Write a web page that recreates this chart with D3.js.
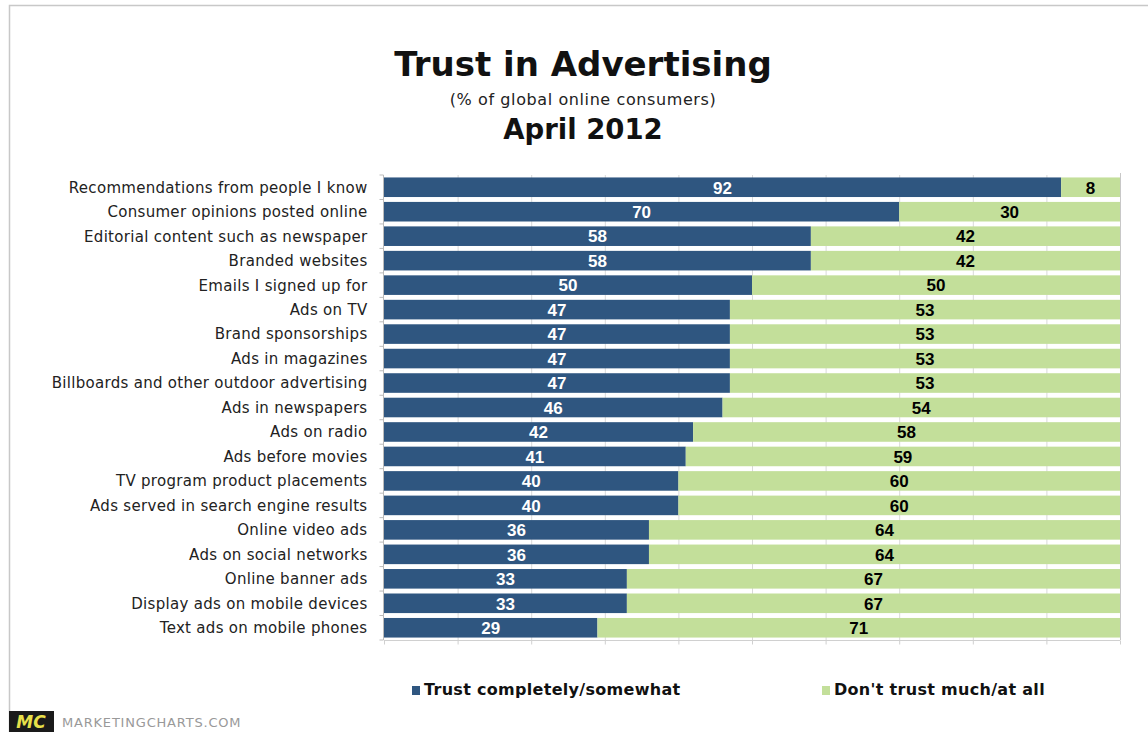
<!DOCTYPE html>
<html><head><meta charset="utf-8">
<script src="https://cdn.jsdelivr.net/npm/d3@7"></script>
<style>
html,body{margin:0;padding:0;background:#fff;}
svg{display:block;font-family:"DejaVu Sans",Verdana,sans-serif;}
</style></head>
<body><svg id="c" width="1148" height="732"></svg>
<script>
const categories = [
  "Recommendations from people I know",
  "Consumer opinions posted online",
  "Editorial content such as newspaper",
  "Branded websites",
  "Emails I signed up for",
  "Ads on TV",
  "Brand sponsorships",
  "Ads in magazines",
  "Billboards and other outdoor advertising",
  "Ads in newspapers",
  "Ads on radio",
  "Ads before movies",
  "TV program product placements",
  "Ads served in search engine results",
  "Online video ads",
  "Ads on social networks",
  "Online banner ads",
  "Display ads on mobile devices",
  "Text ads on mobile phones"
];
const trustValues = [92,70,58,58,50,47,47,47,47,46,42,41,40,40,36,36,33,33,29];
const distrustValues = [8,30,42,42,50,53,53,53,53,54,58,59,60,60,64,64,67,67,71];
const seriesNames = ["Trust completely/somewhat","Don't trust much/at all"];
const xTicks = [0,10,20,30,40,50,60,70,80,90,100];

const colors = ["#2f5680","#c3df9a"];
const svg = d3.select("#c");
const W = 1148, H = 732;
const L = 384, R = 1120, T = 175, B = 640;

// frame
svg.append("path").attr("d",`M9.5,${H} V5.5 H${W}`).attr("fill","none").attr("stroke","#c8c8c8").attr("stroke-width",1.5);

// titles
svg.append("text").attr("x",583).attr("y",76).attr("text-anchor","middle")
  .attr("font-weight","bold").attr("font-size",34).attr("fill","#111").text("Trust in Advertising");
svg.append("text").attr("x",583).attr("y",105).attr("text-anchor","middle")
  .attr("font-size",16).attr("letter-spacing",0.6).attr("fill","#222").text("(% of global online consumers)");
svg.append("text").attr("x",583).attr("y",139).attr("text-anchor","middle")
  .attr("font-weight","bold").attr("font-size",27.5).attr("fill","#111").text("April 2012");

const x = d3.scaleLinear().domain([0,100]).range([L,R]);
const y = d3.scaleBand().domain(categories).range([T,B]).paddingInner(0.2).paddingOuter(0.1);

// gridlines
svg.append("g").selectAll("line").data(xTicks.slice(1)).join("line")
  .attr("x1",d=>x(d)+0.5).attr("x2",d=>x(d)+0.5).attr("y1",T).attr("y2",B)
  .attr("stroke","#d9d9d9").attr("stroke-width",1);

// bars
const rows = categories.map((c,i)=>({c, t:trustValues[i], d:distrustValues[i]}));
const g = svg.append("g");
g.selectAll("rect.t").data(rows).join("rect").attr("class","t")
  .attr("x",x(0)).attr("y",d=>y(d.c)).attr("width",d=>x(d.t)-x(0)).attr("height",y.bandwidth())
  .attr("fill",colors[0]);
g.selectAll("rect.d").data(rows).join("rect").attr("class","d")
  .attr("x",d=>x(d.t)).attr("y",d=>y(d.c)).attr("width",d=>x(d.t+d.d)-x(d.t)).attr("height",y.bandwidth())
  .attr("fill",colors[1]);

// value labels
const vf = "'Liberation Sans Narrow','Liberation Sans',Arial,sans-serif";
g.selectAll("text.t").data(rows).join("text").attr("class","t")
  .attr("x",d=>x(d.t/2)).attr("y",d=>y(d.c)+y.bandwidth()/2).attr("dy","0.37em")
  .attr("text-anchor","middle").attr("font-family",vf).attr("font-weight","bold").attr("font-size",17)
  .attr("fill","#fff").text(d=>d.t);
g.selectAll("text.d").data(rows).join("text").attr("class","d")
  .attr("x",d=>x(d.t+d.d/2)).attr("y",d=>y(d.c)+y.bandwidth()/2).attr("dy","0.37em")
  .attr("text-anchor","middle").attr("font-family",vf).attr("font-weight","bold").attr("font-size",17)
  .attr("fill","#000").text(d=>d.d);

// left axis
const yAxis = svg.append("g").attr("transform",`translate(${L-0.5},0)`);
yAxis.append("line").attr("x1",0).attr("x2",0).attr("y1",T).attr("y2",B).attr("stroke","#bbb");
const step = (B-T)/categories.length;
yAxis.selectAll("line.tk").data(d3.range(categories.length+1)).join("line").attr("class","tk")
  .attr("x1",-4).attr("x2",0).attr("y1",i=>T+i*step).attr("y2",i=>T+i*step).attr("stroke","#bbb");
yAxis.selectAll("text").data(categories).join("text")
  .attr("x",-16).attr("y",d=>y(d)+y.bandwidth()/2).attr("dy","0.36em")
  .attr("text-anchor","end").attr("font-size",15).attr("letter-spacing",0.3).attr("fill","#222").text(d=>d);

// bottom axis
const xAxis = svg.append("g").attr("transform",`translate(0,${B+0.5})`);
xAxis.append("line").attr("x1",L).attr("x2",R).attr("stroke","#d0d0d0");
xAxis.selectAll("line.tk").data(xTicks).join("line").attr("class","tk")
  .attr("x1",d=>x(d)+0.5).attr("x2",d=>x(d)+0.5).attr("y1",0).attr("y2",4).attr("stroke","#d0d0d0");
// right edge line
svg.append("line").attr("x1",R+0.5).attr("x2",R+0.5).attr("y1",T-2).attr("y2",B).attr("stroke","#c8c8c8");

// legend
const leg = svg.append("g");
const legX = [412, 822];
seriesNames.forEach((n,i)=>{
  leg.append("rect").attr("x",legX[i]).attr("y",686).attr("width",8).attr("height",9).attr("fill",colors[i]);
  leg.append("text").attr("x",legX[i]+12).attr("y",695).attr("font-weight","bold").attr("font-size",16)
    .attr("letter-spacing",0.3).attr("fill","#111").text(n);
});

// logo
svg.append("rect").attr("x",9).attr("y",711).attr("width",45).attr("height",21).attr("fill","#1a1a1a");
svg.append("text").attr("x",31).attr("y",728).attr("text-anchor","middle").attr("font-weight","bold")
  .attr("font-style","italic").attr("font-size",17).attr("fill","#e8e04a").text("MC");
svg.append("text").attr("x",62).attr("y",727).attr("font-size",13).attr("letter-spacing",0.8).attr("fill","#999").text("MARKETINGCHARTS.COM");
</script></body></html>
